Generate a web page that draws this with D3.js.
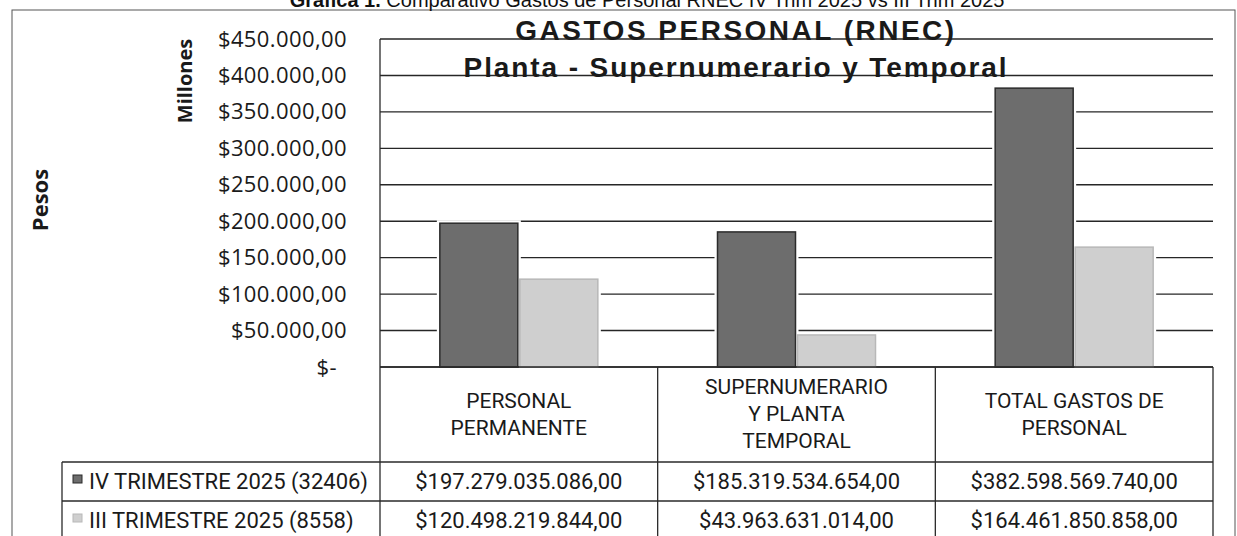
<!DOCTYPE html>
<html>
<head>
<meta charset="utf-8">
<script src="https://cdn.jsdelivr.net/npm/d3@7"></script>
<style>
  body { margin: 0; background: #fff; }
  svg { display: block; }
</style>
</head>
<body>
<script>
// categorias (las lineas de cada celda de encabezado)
const categories = ["PERSONAL PERMANENTE", "SUPERNUMERARIO Y PLANTA TEMPORAL", "TOTAL GASTOS DE PERSONAL"];
const categoryLines = [["PERSONAL", "PERMANENTE"], ["SUPERNUMERARIO", "Y PLANTA", "TEMPORAL"], ["TOTAL GASTOS DE", "PERSONAL"]];
const seriesNames = ["IV TRIMESTRE 2025 (32406)", "III TRIMESTRE 2025 (8558)"];
// valores en millones de pesos
const ivTrim = [197279.035086, 185319.534654, 382598.569740];
const iiiTrim = [120498.219844, 43963.631014, 164461.850858];
// textos de la tabla tal cual aparecen
const ivLabels = ["$197.279.035.086,00", "$185.319.534.654,00", "$382.598.569.740,00"];
const iiiLabels = ["$120.498.219.844,00", "$43.963.631.014,00", "$164.461.850.858,00"];
const yTicks = [0, 50000, 100000, 150000, 200000, 250000, 300000, 350000, 400000, 450000];

document.addEventListener('DOMContentLoaded', function() {
    const width = 1237;
    const height = 536;
    const svg = d3.select('body').append('svg')
        .attr('width', width)
        .attr('height', height);

    const left = 380, right = 1213, top = 39, bottom = 367;
    const headBottom = 462, rowH = 39, legendLeft = 62;
    const colors = ["#6d6d6d", "#cfcfcf"];
    const strokes = ["#2b2b2b", "#b8b8b8"];
    const series = [ivTrim, iiiTrim];

    // marco exterior
    svg.append('rect')
        .attr('x', 12).attr('y', 10)
        .attr('width', 1223).attr('height', 540)
        .attr('fill', 'none')
        .attr('stroke', '#555')
        .attr('stroke-width', 1);

    // pie de figura cortado arriba
    const cap = svg.append('text')
        .attr('x', 647).attr('y', 7)
        .attr('text-anchor', 'middle')
        .style('font-family', 'Liberation Sans, Arial')
        .style('font-size', '20px')
        .style('fill', '#111');
    cap.append('tspan').style('font-weight', 'bold').text('Gráfica 1.');
    cap.append('tspan').text(' Comparativo Gastos de Personal RNEC IV Trim 2025 vs III Trim 2025');

    const y = d3.scaleLinear().domain([0, 450000]).range([bottom, top]);
    const x0 = d3.scaleBand().domain(categories).range([left, right]).padding(0);
    const x1 = d3.scaleBand().domain(seriesNames).range([0, 158]).paddingInner(0.025);
    const groupOffset = (x0.bandwidth() - 158) / 2;

    // lineas de division
    svg.append('g')
        .selectAll('line')
        .data(yTicks)
        .enter().append('line')
        .attr('x1', left).attr('x2', right)
        .attr('y1', d => y(d)).attr('y2', d => y(d))
        .attr('stroke', '#262626')
        .attr('stroke-width', 1.4);

    // eje y
    const yAxis = svg.append('g')
        .attr('transform', `translate(${left},0)`)
        .call(d3.axisLeft(y)
            .tickValues(yTicks)
            .tickSize(0)
            .tickPadding(32)
            .tickFormat(d => d === 0 ? '$-' : '$' + d3.format(',')(d / 1000).replace(/,/g, '.') + '.000,00'));
    yAxis.select('.domain').remove();
    yAxis.selectAll('text')
        .attr('x', d => d === 0 ? -43 : -33)
        .style('font-family', 'Open Sans')
        .style('font-size', '22px')
        .style('letter-spacing', '0.4px')
        .style('fill', '#1a1a1a');

    // titulo del grafico (encima de la cuadricula)
    const titleLines = ['GASTOS PERSONAL (RNEC)', 'Planta - Supernumerario y Temporal'];
    svg.selectAll('.title')
        .data(titleLines)
        .enter().append('text')
        .attr('class', 'title')
        .attr('x', 736)
        .attr('y', (d, i) => i === 0 ? 40 : 77)
        .attr('text-anchor', 'middle')
        .text(d => d)
        .style('font-family', 'Liberation Sans, Arial')
        .style('font-weight', 'bold')
        .style('font-size', '28px')
        .style('letter-spacing', (d, i) => i === 0 ? '2.5px' : '1.9px')
        .style('fill', '#1a1a1a');

    // barras
    const groups = svg.selectAll('.grp')
        .data(categories)
        .enter().append('g')
        .attr('class', 'grp')
        .attr('transform', d => `translate(${x0(d) + groupOffset},0)`);

    // halo blanco alrededor de las barras (primero, para no tapar la barra vecina)
    groups.each(function(cat, ci) {
        const g = d3.select(this);
        seriesNames.forEach((s, si) => {
            const v = series[si][ci];
            g.append('rect')
                .attr('x', x1(s) - 3).attr('y', y(v) - 3)
                .attr('width', x1.bandwidth() + 6).attr('height', y(0) - y(v) + 2)
                .attr('fill', '#fff');
        });
    });
    groups.each(function(cat, ci) {
        const g = d3.select(this);
        seriesNames.forEach((s, si) => {
            const v = series[si][ci];
            g.append('rect')
                .attr('x', x1(s)).attr('y', y(v))
                .attr('width', x1.bandwidth()).attr('height', y(0) - y(v))
                .attr('fill', colors[si])
                .attr('stroke', strokes[si])
                .attr('stroke-width', 1.5);
        });
    });

    // tabla de datos
    const tbl = svg.append('g').style('font-family', 'Roboto').style('fill', '#1a1a1a');
    const lineStyle = sel => sel.attr('stroke', '#2a2a2a').attr('stroke-width', 1.3);

    tbl.append('line').attr('x1', left).attr('x2', right).attr('y1', bottom).attr('y2', bottom).call(lineStyle);
    tbl.append('line').attr('x1', legendLeft).attr('x2', right).attr('y1', headBottom).attr('y2', headBottom).call(lineStyle);
    tbl.append('line').attr('x1', legendLeft).attr('x2', right).attr('y1', headBottom + rowH).attr('y2', headBottom + rowH).call(lineStyle);
    tbl.append('line').attr('x1', legendLeft).attr('x2', right).attr('y1', headBottom + 2 * rowH).attr('y2', headBottom + 2 * rowH).call(lineStyle);
    tbl.append('line').attr('x1', left).attr('x2', left).attr('y1', top).attr('y2', headBottom + 2 * rowH).call(lineStyle);
    tbl.append('line').attr('x1', legendLeft).attr('x2', legendLeft).attr('y1', headBottom).attr('y2', headBottom + 2 * rowH).call(lineStyle);
    tbl.selectAll('.vsep')
        .data(categories)
        .enter().append('line')
        .attr('class', 'vsep')
        .attr('x1', d => x0(d) + x0.bandwidth()).attr('x2', d => x0(d) + x0.bandwidth())
        .attr('y1', bottom).attr('y2', headBottom + 2 * rowH)
        .call(lineStyle);

    // encabezados de categoria
    tbl.selectAll('.head')
        .data(categories)
        .enter().append('text')
        .attr('class', 'head')
        .attr('text-anchor', 'middle')
        .style('font-size', '21px')
        .each(function(d, i) {
            const lines = categoryLines[i];
            const y0 = 414 - (lines.length - 1) * 27 / 2 + 7;
            lines.forEach((t, k) => {
                d3.select(this).append('tspan')
                    .attr('x', x0(d) + x0.bandwidth() / 2)
                    .attr('y', y0 + k * 27)
                    .text(t);
            });
        });

    // filas de valores
    [ivLabels, iiiLabels].forEach((labels, si) => {
        tbl.selectAll('.val' + si)
            .data(categories)
            .enter().append('text')
            .attr('class', 'val' + si)
            .attr('x', d => x0(d) + x0.bandwidth() / 2)
            .attr('y', headBottom + si * rowH + 27)
            .attr('text-anchor', 'middle')
            .style('font-size', '22px')
            .text((d, i) => labels[i]);
    });

    // leyenda de la tabla
    seriesNames.forEach((s, si) => {
        const ry = headBottom + si * rowH;
        tbl.append('rect')
            .attr('x', 73).attr('y', ry + 13)
            .attr('width', 9).attr('height', 8)
            .attr('fill', colors[si])
            .attr('stroke', strokes[si])
            .attr('stroke-width', 1);
        tbl.append('text')
            .attr('x', 89).attr('y', ry + 27)
            .style('font-size', '22px')
            .text(s);
    });

    // titulos de eje
    svg.append('text')
        .attr('transform', 'translate(192,81) rotate(-90)')
        .attr('text-anchor', 'middle')
        .text('Millones')
        .style('font-family', 'Open Sans')
        .style('font-weight', 'bold')
        .style('font-size', '20px')
        .style('fill', '#1a1a1a');
    svg.append('text')
        .attr('transform', 'translate(48,200) rotate(-90)')
        .attr('text-anchor', 'middle')
        .text('Pesos')
        .style('font-family', 'Open Sans')
        .style('font-weight', 'bold')
        .style('font-size', '22px')
        .style('fill', '#1a1a1a');
});
</script>
</body>
</html>
